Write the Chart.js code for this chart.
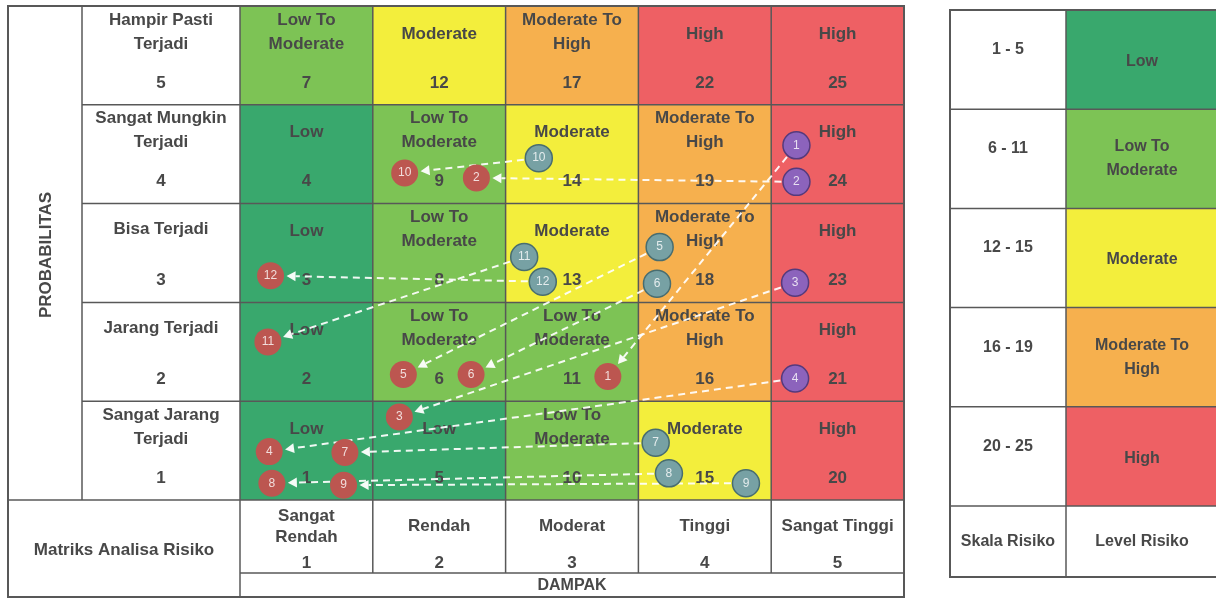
<!DOCTYPE html>
<html>
<head>
<meta charset="utf-8">
<title>Matriks Analisa Risiko</title>
<script src="https://cdn.jsdelivr.net/npm/chart.js@4.4.1/dist/chart.umd.min.js"></script>
<style>
  html, body { margin: 0; padding: 0; background: #fff; overflow: hidden; }
  #wrap { width: 1216px; height: 598px; }
  canvas { display: block; }
</style>
</head>
<body>
<div id="wrap"><canvas id="riskChart" width="1216" height="598"></canvas></div>
<script>
// ---- data ----
const impactLevels = [1, 2, 3, 4, 5];
const impactNames = [['Sangat', 'Rendah'], ['Rendah'], ['Moderat'], ['Tinggi'], ['Sangat Tinggi']];
const probabilityLevels = [1, 2, 3, 4, 5];
const probabilityNames = [
  ['Sangat Jarang', 'Terjadi'],
  ['Jarang Terjadi'],
  ['Bisa Terjadi'],
  ['Sangat Mungkin', 'Terjadi'],
  ['Hampir Pasti', 'Terjadi']
];
// risk score of each cell; row = probability 1..5, column = impact 1..5
const riskScores = [
  [1, 5, 10, 15, 20],
  [2, 6, 11, 16, 21],
  [3, 8, 13, 18, 23],
  [4, 9, 14, 19, 24],
  [7, 12, 17, 22, 25]
];
const levelNames = ['Low', 'Low To Moderate', 'Moderate', 'Moderate To High', 'High'];
const levelMin = [1, 6, 12, 16, 20];
const levelMax = [5, 11, 15, 19, 25];

// residual risks (after mitigation), ids 1..12
const residualIds = [1, 2, 3, 4, 5, 6, 7, 8, 9, 10, 11, 12];
const residualImpact = [3.27, 2.28, 1.70, 0.72, 1.73, 2.24, 1.29, 0.74, 1.28, 1.74, 0.71, 0.73];
const residualProb   = [1.75, 3.76, 1.34, 0.99, 1.77, 1.77, 0.98, 0.67, 0.65, 3.81, 2.10, 2.77];

// inherent risks, ids 1..4
const inherentIdsA = [1, 2, 3, 4];
const inherentImpactA = [4.69, 4.69, 4.68, 4.68];
const inherentProbA   = [4.09, 3.72, 2.70, 1.73];

// inherent risks, ids 5..12
const inherentIdsB = [5, 6, 7, 8, 9, 10, 11, 12];
const inherentImpactB = [3.66, 3.64, 3.63, 3.73, 4.31, 2.75, 2.64, 2.78];
const inherentProbB   = [3.06, 2.69, 1.08, 0.77, 0.67, 3.96, 2.96, 2.71];

// ---- styling ----
const FONT = '"Liberation Sans", Arial, sans-serif';
const STYLE = {
  text: '#484848',
  grid: '#585858',
  fills: ['#39a86d', '#7dc355', '#f3ee3c', '#f6b04e', '#ee6064'],
  residual: '#bc5650',
  inherentA: '#8c63bc', inherentABorder: '#553a7c',
  inherentB: '#77a1a4', inherentBBorder: '#486d70'
};
// table frame around the matrix and the legend table (canvas pixels)
const FRAME = { left: 8, top: 6, probColRight: 82, bottom: 597, headRow: 73 };
const LEGEND = { left: 950, mid: 1066, right: 1218, top: 10, rowH: 99.2, footH: 71 };

function levelOf(score) {
  for (let i = 0; i < levelMin.length; i++) {
    if (score >= levelMin[i] && score <= levelMax[i]) return i;
  }
  return 0;
}
function splitLevel(name) {
  const k = name.indexOf(' To ');
  return k < 0 ? [name] : [name.slice(0, k + 3), name.slice(k + 4)];
}
function text(ctx, s, x, y, size, bold = true, color = STYLE.text) {
  ctx.font = (bold ? 'bold ' : '') + size + 'px ' + FONT;
  ctx.fillStyle = color;
  ctx.textAlign = 'center';
  ctx.textBaseline = 'middle';
  ctx.fillText(s, x, y);
}
function line(ctx, x1, y1, x2, y2) {
  ctx.beginPath(); ctx.moveTo(x1, y1); ctx.lineTo(x2, y2); ctx.stroke();
}
// lines of a block: one line centred lower, two lines stacked at the top
function blockLines(ctx, lines, cx, top, size, single = 27) {
  if (lines.length === 1) text(ctx, lines[0], cx, top + single, size);
  else { text(ctx, lines[0], cx, top + 14, size); text(ctx, lines[1], cx, top + 38, size); }
}

const matrixPlugin = {
  id: 'riskMatrix',
  beforeDraw(chart) {
    const ctx = chart.ctx, xs = chart.scales.x, ys = chart.scales.y;
    const area = chart.chartArea;
    ctx.save();
    ctx.fillStyle = '#fff';
    ctx.fillRect(0, 0, chart.width, chart.height);

    // coloured cells with level and score
    probabilityLevels.forEach((p, pi) => {
      impactLevels.forEach((im, ii) => {
        const l = xs.getPixelForValue(im - 0.5), r = xs.getPixelForValue(im + 0.5);
        const t = ys.getPixelForValue(p + 0.5), b = ys.getPixelForValue(p - 0.5);
        const score = riskScores[pi][ii];
        const lv = levelOf(score);
        ctx.fillStyle = STYLE.fills[lv];
        ctx.fillRect(l, t, r - l, b - t);
        const cx = (l + r) / 2;
        blockLines(ctx, splitLevel(levelNames[lv]), cx, t, 17, 28);
        text(ctx, String(score), cx, t + 77, 17);
      });
    });

    // probability labels
    const labL = FRAME.probColRight, labR = area.left;
    probabilityLevels.forEach((p, pi) => {
      const t = ys.getPixelForValue(p + 0.5);
      const cx = (labL + labR) / 2;
      blockLines(ctx, probabilityNames[pi], cx, t, 17, 26);
      text(ctx, String(p), cx, t + 77, 17);
    });

    // impact labels
    impactLevels.forEach((im, ii) => {
      const l = xs.getPixelForValue(im - 0.5), r = xs.getPixelForValue(im + 0.5);
      const cx = (l + r) / 2, t = area.bottom;
      const names = impactNames[ii];
      if (names.length === 1) text(ctx, names[0], cx, t + 26, 17);
      else { text(ctx, names[0], cx, t + 16, 17); text(ctx, names[1], cx, t + 37, 17); }
      text(ctx, String(im), cx, t + 63, 17);
    });

    text(ctx, 'DAMPAK', (area.left + area.right) / 2, area.bottom + FRAME.headRow + 13, 16);
    text(ctx, 'Matriks Analisa Risiko', (FRAME.left + area.left) / 2, area.bottom + 50, 17);

    ctx.save();
    ctx.translate((FRAME.left + FRAME.probColRight) / 2 + 1, (area.top + area.bottom) / 2 + 2);
    ctx.rotate(-Math.PI / 2);
    text(ctx, 'PROBABILITAS', 0, 0, 17);
    ctx.restore();

    // table lines
    ctx.strokeStyle = STYLE.grid;
    ctx.lineWidth = 1.5;
    probabilityLevels.slice(0, -1).forEach(p => {
      const y = ys.getPixelForValue(p + 0.5);
      line(ctx, FRAME.probColRight, y, area.right, y);
    });
    impactLevels.slice(0, -1).forEach(im => {
      const x = xs.getPixelForValue(im + 0.5);
      line(ctx, x, area.top, x, area.bottom + FRAME.headRow);
    });
    line(ctx, FRAME.probColRight, area.top, FRAME.probColRight, area.bottom);
    line(ctx, area.left, area.top, area.left, FRAME.bottom);
    line(ctx, FRAME.left, area.bottom, area.right, area.bottom);
    line(ctx, area.left, area.bottom + FRAME.headRow, area.right, area.bottom + FRAME.headRow);
    ctx.lineWidth = 2;
    ctx.strokeRect(FRAME.left, FRAME.top, area.right - FRAME.left, FRAME.bottom - FRAME.top);

    // legend table
    const L = LEGEND;
    levelNames.forEach((name, i) => {
      const t = L.top + i * L.rowH;
      ctx.fillStyle = STYLE.fills[i];
      ctx.fillRect(L.mid, t, L.right - L.mid, L.rowH);
      text(ctx, levelMin[i] + ' - ' + levelMax[i], (L.left + L.mid) / 2, t + L.rowH / 2 - 10, 16);
      const parts = splitLevel(name);
      const cx = (L.mid + L.right) / 2, cy = t + L.rowH / 2;
      if (parts.length === 1) text(ctx, parts[0], cx, cy + 2, 16);
      else { text(ctx, parts[0], cx, cy - 12, 16); text(ctx, parts[1], cx, cy + 12, 16); }
    });
    const footT = L.top + 5 * L.rowH;
    text(ctx, 'Skala Risiko', (L.left + L.mid) / 2, footT + L.footH / 2, 16);
    text(ctx, 'Level Risiko', (L.mid + L.right) / 2, footT + L.footH / 2, 16);
    ctx.strokeStyle = STYLE.grid;
    ctx.lineWidth = 1.5;
    for (let i = 1; i <= 5; i++) line(ctx, L.left, L.top + i * L.rowH, L.right, L.top + i * L.rowH);
    line(ctx, L.mid, L.top, L.mid, footT + L.footH);
    ctx.lineWidth = 2;
    ctx.strokeRect(L.left, L.top, L.right - L.left, footT + L.footH - L.top);
    ctx.restore();
  },
  beforeDatasetsDraw(chart) {
    // dashed arrows from each inherent risk to its residual position
    const ctx = chart.ctx;
    const res = chart.getDatasetMeta(0).data;
    const starts = {};
    [[1, inherentIdsA], [2, inherentIdsB]].forEach(([di, ids]) => {
      chart.getDatasetMeta(di).data.forEach((pt, k) => { starts[ids[k]] = pt; });
    });
    ctx.save();
    ctx.strokeStyle = 'rgba(255,255,255,0.92)';
    ctx.fillStyle = 'rgba(255,255,255,0.95)';
    ctx.lineWidth = 2;
    residualIds.forEach((id, k) => {
      const a = starts[id], b = res[k];
      if (!a || !b) return;
      const dx = b.x - a.x, dy = b.y - a.y, d = Math.hypot(dx, dy);
      const ux = dx / d, uy = dy / d;
      const sx = a.x + ux * 15, sy = a.y + uy * 15;
      const ex = b.x - ux * 16, ey = b.y - uy * 16;
      const head = 9, hw = 5;
      ctx.setLineDash([7, 5]);
      ctx.beginPath(); ctx.moveTo(sx, sy); ctx.lineTo(ex - ux * head, ey - uy * head); ctx.stroke();
      ctx.setLineDash([]);
      ctx.beginPath();
      ctx.moveTo(ex, ey);
      ctx.lineTo(ex - ux * head - uy * hw, ey - uy * head + ux * hw);
      ctx.lineTo(ex - ux * head + uy * hw, ey - uy * head - ux * hw);
      ctx.closePath(); ctx.fill();
    });
    ctx.restore();
  },
  afterDatasetsDraw(chart) {
    // risk numbers inside the markers
    const ctx = chart.ctx;
    const groups = [[0, residualIds], [1, inherentIdsA], [2, inherentIdsB]];
    groups.forEach(([di, ids]) => {
      chart.getDatasetMeta(di).data.forEach((pt, k) => {
        text(ctx, String(ids[k]), pt.x, pt.y, 12, false, 'rgba(255,255,255,0.8)');
      });
    });
  }
};

const toPoints = (xs, ys) => xs.map((v, i) => ({ x: v, y: ys[i] }));

new Chart(document.getElementById('riskChart'), {
  type: 'scatter',
  data: {
    datasets: [
      {
        label: 'Risiko Residual',
        data: toPoints(residualImpact, residualProb),
        backgroundColor: STYLE.residual, borderColor: STYLE.residual,
        pointRadius: 13.5, pointBorderWidth: 0, pointHoverRadius: 13.5
      },
      {
        label: 'Risiko Inheren 1-4',
        data: toPoints(inherentImpactA, inherentProbA),
        backgroundColor: STYLE.inherentA, borderColor: STYLE.inherentABorder,
        pointRadius: 13.5, pointBorderWidth: 1.5, pointHoverRadius: 13.5
      },
      {
        label: 'Risiko Inheren 5-12',
        data: toPoints(inherentImpactB, inherentProbB),
        backgroundColor: STYLE.inherentB, borderColor: STYLE.inherentBBorder,
        pointRadius: 13.5, pointBorderWidth: 1.5, pointHoverRadius: 13.5
      }
    ]
  },
  options: {
    responsive: false,
    animation: false,
    devicePixelRatio: 1,
    layout: { autoPadding: false, padding: { left: 240, top: 6, right: 312, bottom: 98 } },
    scales: {
      x: { type: 'linear', min: 0.5, max: 5.5, display: false },
      y: { type: 'linear', min: 0.5, max: 5.5, display: false }
    },
    plugins: { legend: { display: false }, tooltip: { enabled: false } },
    events: []
  },
  plugins: [matrixPlugin]
});
</script>
</body>
</html>
